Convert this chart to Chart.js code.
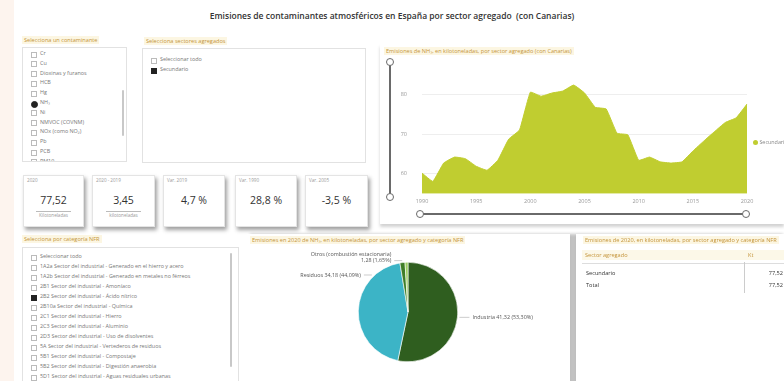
<!DOCTYPE html>
<html lang="es">
<head>
<meta charset="utf-8">
<title>Emisiones de contaminantes atmosféricos en España</title>
<script src="https://cdn.jsdelivr.net/npm/chart.js@4/dist/chart.umd.min.js"></script>
<style>
  html, body { margin: 0; padding: 0; }
  body {
    width: 784px; height: 381px; overflow: hidden; position: relative;
    background: #ffffff; font-family: "Open Sans", "DejaVu Sans", sans-serif; color: #555;
  }
  .abs { position: absolute; }
  .strip { left: 0; top: 0; width: 14px; height: 381px; background: #fdf4ee; }
  .main-title {
    left: 0; width: 784px; top: 10px; text-align: center;
    font-size: 8.5px; font-weight: 600; color: #333;
  }
  .ptitle {
    font-size: 5.6px; color: #c4943a; background: #fcf6e2; padding: 0 2px;
    white-space: nowrap; line-height: 8px;
  }
  .box { border: 1px solid #e2e2e2; background: #fff; }
  .item { position: absolute; font-size: 5.4px; color: #777; white-space: nowrap; line-height: 7px; }
  .chk {
    position: absolute; width: 4px; height: 4px; border: 0.6px solid #bbb; background: #fff;
  }
  .chk.on { background: #222; border-color: #222; }
  .chk.radio { border-radius: 50%; width: 5px; height: 5px; }
  .scroll { position: absolute; width: 2px; background: #c8c8c8; border-radius: 1px; }
  .card {
    position: absolute; top: 175px; height: 50px; background: #fff;
    border: 1px solid #e4e4e4; box-shadow: 2px 3px 4px rgba(0,0,0,0.38);
  }
  .card .lab { position: absolute; left: 3px; top: 1px; font-size: 4.6px; color: #999; }
  .card .val { position: absolute; left: 0; right: 0; top: 17px; text-align: center; font-size: 10.5px; color: #333; }
  .card .cap { position: absolute; left: 0; right: 0; top: 36px; text-align: center; font-size: 4.6px; color: #999; }
  .card .cap span { border-top: 0.6px solid #bbb; padding: 0 3px; }
  .panel { position: absolute; background: #fff; }
  .knob {
    position: absolute; width: 6px; height: 6px; border-radius: 50%;
    border: 1.6px solid #6a6a6a; background: #fff;
  }
  .rail { position: absolute; background: #6a6a6a; }
  .tcell { position: absolute; font-size: 5.6px; white-space: nowrap; }
</style>
</head>
<body>

<div class="abs strip"></div>
<div class="abs main-title">Emisiones de contaminantes atmosféricos en España por sector agregado&nbsp; (con Canarias)</div>

<!-- selector de contaminante -->
<div class="abs ptitle" style="left:22px; top:36px;">Selecciona un contaminante</div>
<div class="abs box" id="contaminantes" style="left:22px; top:47px; width:103px; height:113px; overflow:hidden;"></div>

<!-- selector de sector -->
<div class="abs ptitle" style="left:144px; top:37px;">Selecciona sectores agregados</div>
<div class="abs box" id="sectores" style="left:142px; top:48px; width:222px; height:113px;"></div>

<!-- panel de la serie temporal -->
<div class="panel" style="left:380px; top:44px; width:404px; height:180px; box-shadow: 0 3px 3px rgba(0,0,0,0.18);"></div>
<div class="abs ptitle" style="left:384px; top:47px;">Emisiones de NH₃, en kilotoneladas, por sector agregado (con Canarias)</div>
<div class="rail" style="left:389px; top:63px; width:2px; height:134px;"></div>
<div class="knob" style="left:385.5px; top:58px;"></div>
<div class="knob" style="left:385.5px; top:193px;"></div>
<div class="rail" style="left:421px; top:213px; width:326px; height:2px;"></div>
<div class="knob" style="left:416px; top:209.5px;"></div>
<div class="knob" style="left:742px; top:209.5px;"></div>
<canvas id="serieChart" class="abs" style="left:395px; top:60px;"></canvas>
<div class="abs" style="left:753px; top:138px; font-size:5.4px; color:#888; white-space:nowrap;">
  <span style="display:inline-block; width:5px; height:5px; border-radius:50%; background:#c0cd30; vertical-align:middle;"></span> Secundario
</div>

<!-- tarjetas -->
<div class="card" style="left:23px; width:59px;"><div class="lab">2020</div><div class="val">77,52</div><div class="cap"><span>Kilotoneladas</span></div></div>
<div class="card" style="left:92px; width:61px;"><div class="lab">2020 - 2019</div><div class="val">3,45</div><div class="cap"><span>kilotoneladas</span></div></div>
<div class="card" style="left:163px; width:60px;"><div class="lab">Var. 2019</div><div class="val">4,7 %</div></div>
<div class="card" style="left:235px; width:60px;"><div class="lab">Var. 1990</div><div class="val">28,8 %</div></div>
<div class="card" style="left:305px; width:61px;"><div class="lab">Var. 2005</div><div class="val">-3,5 %</div></div>

<!-- selector NFR -->
<div class="abs ptitle" style="left:22px; top:235px;">Selecciona por categoría NFR</div>
<div class="abs box" id="nfr" style="left:22px; top:247px; width:215px; height:140px; overflow:hidden;"></div>

<!-- panel de la tarta -->
<div class="panel" style="left:247px; top:234px; width:323px; height:150px; box-shadow: 3px 0 3px rgba(0,0,0,0.25);"></div>
<div class="abs ptitle" style="left:250px; top:236px;">Emisiones en 2020 de NH₃, en kilotoneladas, por sector agregado y categoría NFR</div>
<canvas id="tartaChart" class="abs" style="left:250px; top:250px;"></canvas>

<!-- panel de la tabla -->
<div class="panel" style="left:576px; top:234px; width:210px; height:150px; box-shadow: -3px 0 3px rgba(0,0,0,0.25);"></div>
<div class="abs ptitle" style="left:583px; top:236px;">Emisiones de 2020, en kilotoneladas, por sector agregado y categoría NFR</div>
<div class="abs" style="left:582px; top:250px; width:202px; height:10px; background:#fcf8e8;"></div>
<div class="tcell" style="left:585px; top:251px; color:#c4943a;">Sector agregado</div>
<div class="tcell" style="left:748px; top:251px; color:#c4943a;">Kt</div>
<div class="abs" style="left:582px; top:263px; width:202px; height:1px; background:#ddd;"></div>
<div class="abs" style="left:744px; top:262px; width:1px; height:31px; background:#ccc;"></div>
<div class="tcell" style="left:586px; top:269px; color:#333;">Secundario</div>
<div class="tcell" style="right:1px; top:269px; color:#333;">77,52</div>
<div class="tcell" style="left:586px; top:281px; color:#333;">Total</div>
<div class="tcell" style="right:1px; top:281px; color:#333;">77,52</div>

<script>
// Serie anual de emisiones (kt) del sector secundario
const years = ['1990', '1991', '1992', '1993', '1994', '1995', '1996', '1997', '1998', '1999',
    '2000', '2001', '2002', '2003', '2004', '2005', '2006', '2007', '2008', '2009',
    '2010', '2011', '2012', '2013', '2014', '2015', '2016', '2017', '2018', '2019', '2020'];
const emisiones = [60.19, 58.1, 62.7, 64.2, 63.8, 61.9, 60.9, 63.4, 68.7, 71.0,
    80.5, 79.5, 80.3, 80.8, 82.3, 80.33, 76.7, 76.3, 70.2, 69.8,
    63.4, 64.2, 63.0, 62.7, 63.0, 65.7, 68.2, 70.6, 72.9, 74.07, 77.52];
const yTicks = [60, 70, 80];

// Reparto de 2020 por categoría NFR
const categorias = ['Industria', 'Residuos', 'Otros (combustión estacionaria)', 'Otros procesos'];
const valores2020 = [41.32, 34.18, 1.28, 0.74];
const porcentajes = ['53,30%', '44,09%', '1,65%', '0,95%'];
const coloresTarta = ['#2f5e1f', '#3cb4c6', '#3f7d27', '#9ccf63'];

// Listas de los segmentadores
const contaminantes = ['Cr', 'Cu', 'Dioxinas y furanos', 'HCB', 'Hg', 'NH₃', 'Ni', 'NMVOC (COVNM)', 'NOx (como NO₂)', 'Pb', 'PCB', 'PM10'];
const sectores = ['Seleccionar todo', 'Secundario'];
const categoriasNFR = [
    'Seleccionar todo',
    '1A2a Sector del industrial - Generado en el hierro y acero',
    '1A2b Sector del industrial - Generado en metales no férreos',
    '2B1 Sector del industrial - Amoníaco',
    '2B2 Sector del industrial - Ácido nítrico',
    '2B10a Sector del industrial - Química',
    '2C1 Sector del industrial - Hierro',
    '2C3 Sector del industrial - Aluminio',
    '2D3 Sector del industrial - Uso de disolventes',
    '5A Sector del industrial - Vertederos de residuos',
    '5B1 Sector del industrial - Compostaje',
    '5B2 Sector del industrial - Digestión anaerobia',
    '5D1 Sector del industrial - Aguas residuales urbanas'
];

function fmt(v) {
    return v.toFixed(2).replace('.', ',');
}

function buildList(id, items, top, step, selected, radio) {
    const box = document.getElementById(id);
    items.forEach((txt, i) => {
        const y = top + i * step;
        const c = document.createElement('div');
        c.className = 'chk' + (i === selected ? ' on' : '') + (radio && i === selected ? ' radio' : '');
        c.style.left = '8px';
        c.style.top = (y + 1.5) + 'px';
        box.appendChild(c);
        const t = document.createElement('div');
        t.className = 'item';
        t.style.left = '17px';
        t.style.top = y + 'px';
        t.textContent = txt;
        box.appendChild(t);
    });
}

buildList('contaminantes', contaminantes, 2, 9.8, 5, true);
buildList('sectores', sectores, 7, 10, 1, false);
buildList('nfr', categoriasNFR, 5, 10, 4, false);

// barras de desplazamiento
[['contaminantes', 99, 42, 46], ['nfr', 207, 5, 114]].forEach(([id, x, y, h]) => {
    const s = document.createElement('div');
    s.className = 'scroll';
    s.style.left = x + 'px';
    s.style.top = y + 'px';
    s.style.height = h + 'px';
    document.getElementById(id).appendChild(s);
});

Chart.defaults.font.family = '"Open Sans", "DejaVu Sans", sans-serif';
Chart.defaults.animation = false;

function renderSerie() {
    const canvas = document.getElementById('serieChart');
    canvas.width = 389;
    canvas.height = 152;
    return new Chart(canvas, {
        type: 'line',
        data: {
            labels: years,
            datasets: [{
                label: 'Secundario',
                data: emisiones,
                borderColor: '#c0cd30',
                backgroundColor: '#c0cd30',
                borderWidth: 1,
                fill: 'start',
                pointRadius: 0,
                tension: 0.1
            }]
        },
        options: {
            responsive: false,
            layout: { padding: { left: 0, right: 37, top: 9, bottom: 0 } },
            plugins: { legend: { display: false }, tooltip: { enabled: false } },
            scales: {
                x: {
                    grid: { display: false, drawTicks: false },
                    border: { display: false },
                    afterFit: scale => { scale.height = 15; },
                    ticks: {
                        autoSkip: false,
                        maxRotation: 0,
                        padding: 4,
                        color: '#999',
                        font: { size: 5.5 },
                        callback: function (value) {
                            const y = this.getLabelForValue(value);
                            return Number(y) % 5 === 0 ? y : '';
                        }
                    }
                },
                y: {
                    min: 55,
                    max: 84,
                    afterBuildTicks: scale => { scale.ticks = yTicks.map(v => ({ value: v })); },
                    afterFit: scale => { scale.width = 27; },
                    border: { display: false },
                    grid: { color: '#e6e6e6', lineWidth: 0.7, drawTicks: false },
                    ticks: { padding: 15, color: '#999', font: { size: 5.5 } }
                }
            }
        }
    });
}

// etiquetas exteriores con línea guía, ancladas a cada sector de la tarta
const etiquetasTarta = {
    id: 'etiquetasTarta',
    afterDatasetsDraw(chart, args, opts) {
        const ctx = chart.ctx;
        const meta = chart.getDatasetMeta(0);
        ctx.save();
        ctx.font = '5.4px "Open Sans", "DejaVu Sans", sans-serif';
        ctx.fillStyle = '#555';
        ctx.strokeStyle = '#aaa';
        ctx.lineWidth = 0.6;
        opts.items.forEach(item => {
            const arc = meta.data[item.index];
            const a = arc.startAngle + (arc.endAngle - arc.startAngle) * item.anchor;
            const px = arc.x + Math.cos(a) * (arc.outerRadius + 2);
            const py = arc.y + Math.sin(a) * (arc.outerRadius + 2);
            const dir = Math.cos(a) >= 0 ? 1 : -1;
            const ex = px + dir * item.len;
            ctx.beginPath();
            ctx.moveTo(px, py);
            ctx.lineTo(ex, py);
            ctx.stroke();
            ctx.textAlign = dir > 0 ? 'left' : 'right';
            ctx.textBaseline = 'middle';
            const tx = ex + dir * 3;
            const v = valores2020[item.index];
            const txt = fmt(v) + ' (' + porcentajes[item.index] + ')';
            if (item.twoLines) {
                ctx.fillText(categorias[item.index], tx, py - 6);
                ctx.fillText(txt, tx, py);
            } else {
                ctx.fillText(categorias[item.index] + ' ' + txt, tx, py);
            }
        });
        ctx.restore();
    }
};

function renderTarta() {
    const canvas = document.getElementById('tartaChart');
    canvas.width = 320;
    canvas.height = 128;
    return new Chart(canvas, {
        type: 'pie',
        data: {
            labels: categorias,
            datasets: [{
                data: valores2020,
                backgroundColor: coloresTarta,
                borderColor: '#ffffff',
                borderWidth: 0.6
            }]
        },
        options: {
            responsive: false,
            layout: { padding: { left: 108, right: 112, top: 12, bottom: 16 } },
            plugins: {
                legend: { display: false },
                tooltip: { enabled: false },
                etiquetasTarta: {
                    items: [
                        { index: 0, anchor: 0.5, len: 10 },
                        { index: 1, anchor: 0.78, len: 8 },
                        { index: 2, anchor: 0.5, len: 8, twoLines: true }
                    ]
                }
            }
        },
        plugins: [etiquetasTarta]
    });
}

renderSerie();
renderTarta();
</script>
</body>
</html>
